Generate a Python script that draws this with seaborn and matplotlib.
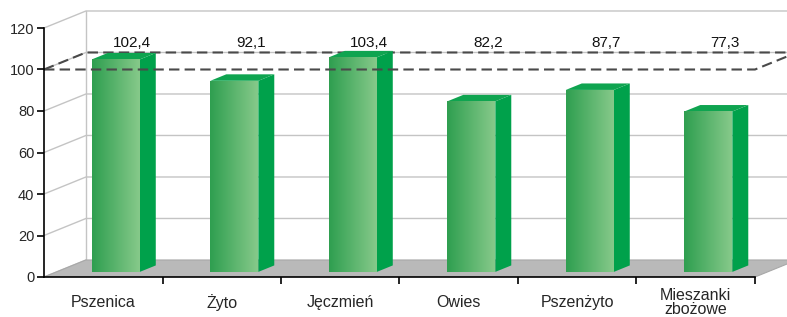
import numpy as np
import matplotlib
matplotlib.use("Agg")
import matplotlib.pyplot as plt
import seaborn as sns
from matplotlib.patches import Polygon
from matplotlib.colors import LinearSegmentedColormap

# data
crops = ["Pszenica", "Żyto", "Jęczmień", "Owies", "Pszenżyto", "Mieszanki\nzbożowe"]
values = [102.4, 92.1, 103.4, 82.2, 87.7, 77.3]
ref_level = 100
y_ticks = [0, 20, 40, 60, 80, 100, 120]

sns.set_theme(style="white")
plt.rcParams["font.family"] = ["Liberation Sans", "DejaVu Sans"]

# fake 3d depth (data units)
DX, DY = 0.354, 8.2          # full depth of the box
BX, BY = 0.30 * DX, 0.30 * DY  # where bar front faces sit
BDX, BDY = 0.38 * DX, 0.38 * DY  # bar thickness
BAR_W = 0.405

fig = plt.figure(figsize=(7.87, 3.17), dpi=100)
ax = fig.add_axes([44 / 787, 1 - 277 / 317, 1 - 44 / 787, 269 / 317])

n = len(crops)
x_left, x_right = -0.5, n - 0.5
grid_col = "#c4c4c4"

# floor
ax.add_patch(Polygon([(x_left, 0), (x_right, 0), (x_right + DX, DY), (x_left + DX, DY)],
                     closed=True, facecolor="#b9b9b9", edgecolor="#a8a8a8", lw=0.8, zorder=1))

# back wall + left wall grid
for t in y_ticks[1:]:
    ax.plot([x_left, x_left + DX, x_right + DX + 1], [t, t + DY, t + DY],
            color=grid_col, lw=1, zorder=0.5)
ax.plot([x_left, x_left + DX], [0, DY], color=grid_col, lw=1, zorder=0.5)
ax.plot([x_left + DX, x_left + DX], [DY, y_ticks[-1] + DY], color=grid_col, lw=1, zorder=0.5)

# reference line (back part, behind bars)
dash = (0, (5, 2.5))
ref_col = "#4a4a4a"
ax.plot([x_left, x_left + DX, x_right + DX + 1], [ref_level, ref_level + DY, ref_level + DY],
        color=ref_col, lw=1.5, linestyle=dash, zorder=1.5)

# bars
sns.barplot(x=crops, y=values, width=BAR_W, color="#2fa050", saturation=1,
            edgecolor="none", ax=ax, zorder=2)

grad = LinearSegmentedColormap.from_list("g", ["#2f9f50", "#86c98a"])
side_col = "#00a14b"
for p in list(ax.patches):
    if isinstance(p, Polygon):
        continue
    p.set_x(p.get_x() + BX)
    p.set_y(p.get_y() + BY)
    x0, y0 = p.get_x(), p.get_y()
    x1, y1 = x0 + p.get_width(), y0 + p.get_height()
    img = ax.imshow(np.linspace(0, 1, 64).reshape(1, -1), cmap=grad, aspect="auto",
                    extent=[x0, x1, y0, y1], zorder=2.1)
    img.set_clip_path(p)
    ax.add_patch(Polygon([(x1, y0), (x1 + BDX, y0 + BDY), (x1 + BDX, y1 + BDY), (x1, y1)],
                         closed=True, facecolor=side_col, edgecolor="none", zorder=2))
    ax.add_patch(Polygon([(x0, y1), (x1, y1), (x1 + BDX, y1 + BDY), (x0 + BDX, y1 + BDY)],
                         closed=True, facecolor="#0fa450", edgecolor="none", zorder=2))

# reference line (front part, over bars)
ax.plot([x_left, x_right, x_right + DX], [ref_level, ref_level, ref_level + DY],
        color=ref_col, lw=1.5, linestyle=dash, zorder=3)

# value labels
for i, v in enumerate(values):
    ax.text(i + 0.245, 112.8, f"{v:.1f}".replace(".", ","), ha="center", va="center",
            fontsize=11, color="#111111", zorder=4)

ax.set_xlim(x_left, x_left + 743 / 118.5)
ax.set_ylim(0, 269 / 2.075)

for s in ["top", "right"]:
    ax.spines[s].set_visible(False)
ax.spines["left"].set_bounds(0, y_ticks[-1])
ax.spines["bottom"].set_bounds(x_left, x_right)
for s in ["left", "bottom"]:
    ax.spines[s].set_color("black")
    ax.spines[s].set_linewidth(1.2)
    ax.spines[s].set_zorder(5)

ax.set_yticks(y_ticks)
ax.tick_params(axis="y", direction="out", length=5, width=1.2, color="black",
               labelsize=10.5, pad=2, left=True)
ax.set_xticks(range(n))
ax.set_xticklabels(crops, fontsize=11.5, linespacing=0.95)
ax.tick_params(axis="x", length=0, pad=18.5)
for lab in ax.get_xticklabels():
    lab.set_verticalalignment("center")
ax.set_xticks(np.arange(n) + 0.5, minor=True)
ax.tick_params(axis="x", which="minor", direction="out", length=5, width=1.2,
               color="black", bottom=True)
ax.grid(False)
ax.set_xlabel("")
ax.set_ylabel("")

fig.savefig("out.png", dpi=100)
